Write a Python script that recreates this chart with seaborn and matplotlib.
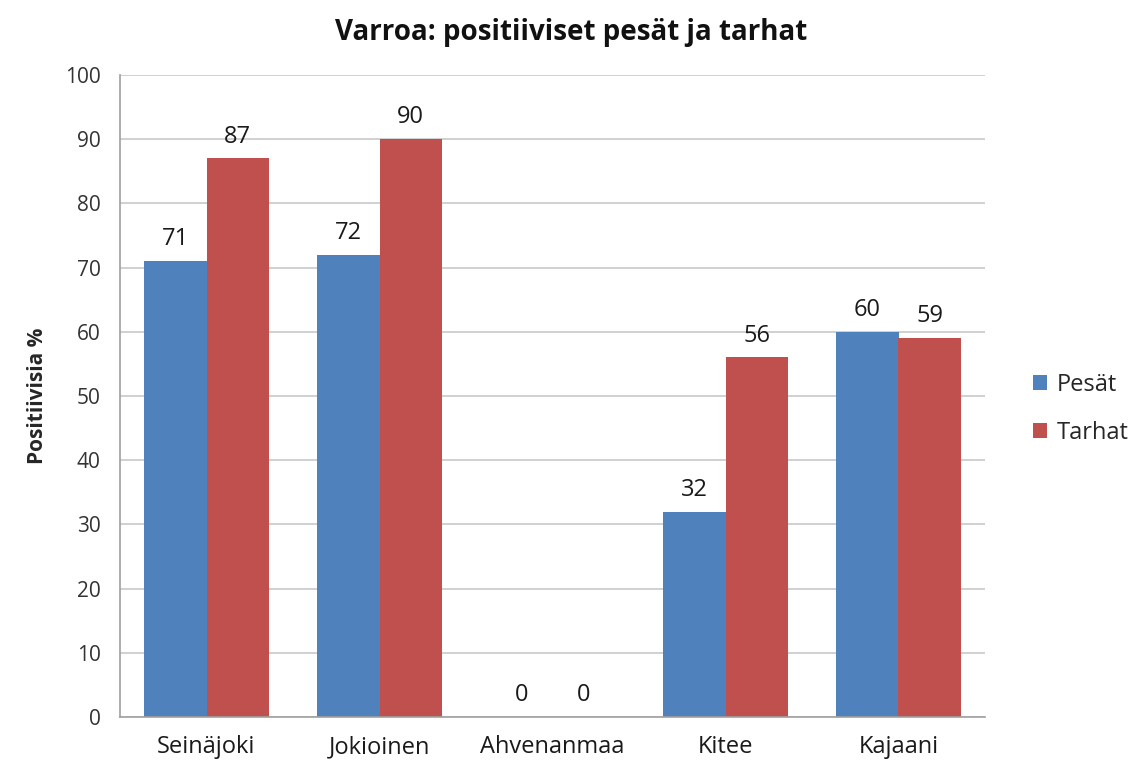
import pandas as pd
import matplotlib.pyplot as plt
import seaborn as sns
from matplotlib.ticker import FixedLocator

# Data
locations = ['Seinäjoki', 'Jokioinen', 'Ahvenanmaa', 'Kitee', 'Kajaani']
pesat = [71, 72, 0, 32, 60]
tarhat = [87, 90, 0, 56, 59]
series_names = ['Pesät', 'Tarhat']

df = pd.DataFrame({'Paikka': locations, 'Pesät': pesat, 'Tarhat': tarhat})
long_df = df.melt(id_vars='Paikka', var_name='Sarja', value_name='Arvo')

sns.set_style('white')
plt.rcParams['font.family'] = ['Open Sans', 'DejaVu Sans']

fig = plt.figure(figsize=(11.37, 7.75), dpi=100)
ax = fig.add_axes([120 / 1137, 1 - 717 / 775, 865 / 1137, (717 - 75) / 775])

sns.barplot(data=long_df, x='Paikka', y='Arvo', hue='Sarja', hue_order=series_names,
            order=locations, palette=['#4F81BD', '#C0504D'], width=0.72,
            saturation=1, linewidth=0, ax=ax)

for cont in ax.containers:
    ax.bar_label(cont, fmt='%d', padding=7, fontsize=17, color='#1a1a1a')

ax.set_ylim(0, 100)
ax.set_xlim(-0.5, len(locations) - 0.5)
ax.set_yticks(range(0, 101, 10))
ax.yaxis.grid(True, color='#c8c8c8', linewidth=1.2)
ax.set_axisbelow(True)
for side in ['top', 'right']:
    ax.spines[side].set_visible(False)
ax.spines['left'].set_color('#a0a0a0')
ax.spines['bottom'].set_color('#a0a0a0')
ax.spines['left'].set_linewidth(1.2)
ax.spines['bottom'].set_linewidth(1.2)

ax.tick_params(axis='y', length=6, color='#a0a0a0', labelsize=15, labelcolor='#333333', pad=8)
ax.tick_params(axis='x', length=0, labelsize=17, labelcolor='#1a1a1a', pad=13)
ax.xaxis.set_minor_locator(FixedLocator([i - 0.5 for i in range(len(locations) + 1)]))
ax.tick_params(axis='x', which='minor', length=6, color='#a0a0a0')

ax.set_xlabel('')
ax.set_ylabel('Positiivisia %', fontsize=15, fontweight='bold', labelpad=12)

fig.text(0.502, 0.958, 'Varroa: positiiviset pesät ja tarhat', ha='center', va='center',
         fontsize=20, fontweight='bold', color='#111111')

sns.move_legend(ax, loc='center left', bbox_to_anchor=(1012 / 1137, 1 - 409 / 775),
                bbox_transform=fig.transFigure, frameon=False, title=None,
                fontsize=17, handlelength=0.6, handleheight=0.6,
                handletextpad=0.4, labelspacing=1.0)

fig.savefig('out.png', dpi=100)
